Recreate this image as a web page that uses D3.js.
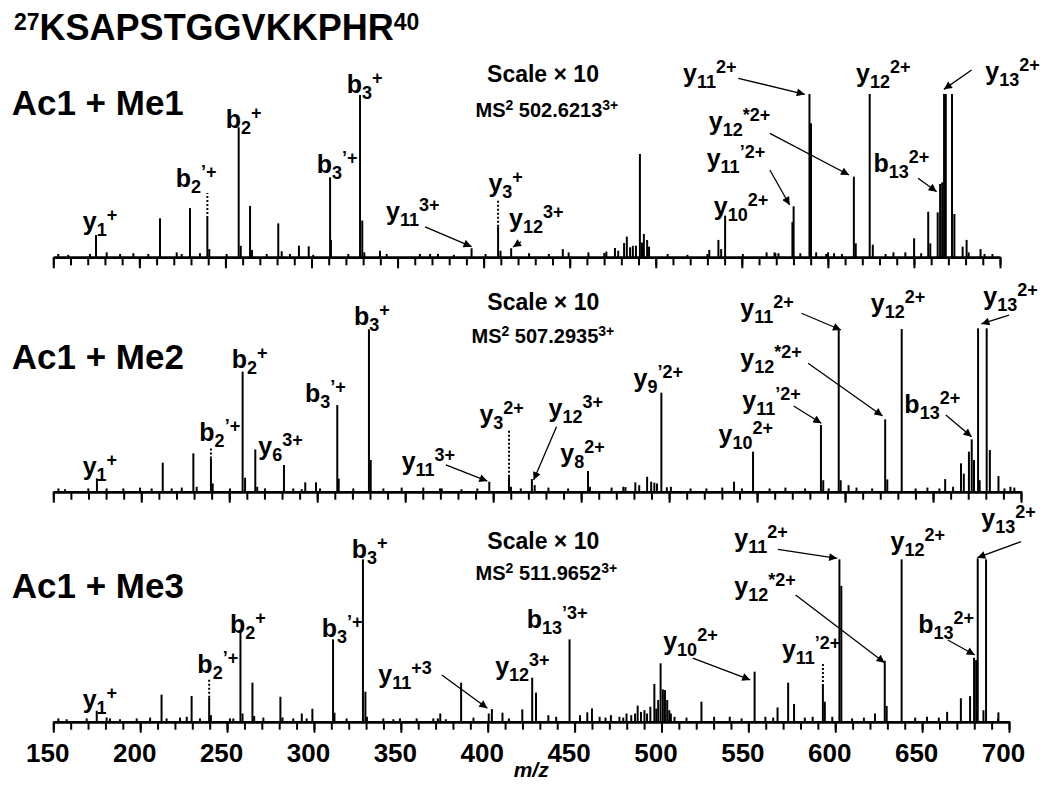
<!DOCTYPE html>
<html>
<head>
<meta charset="utf-8">
<script src="https://d3js.org/d3.v7.min.js"></script>
<style>
  body { margin:0; background:white; }
  text { font-family:"Liberation Sans", Arial, sans-serif; font-weight:bold; fill:black; }
</style>
</head>
<body>
<svg id="chart" width="1050" height="789"></svg>
<script>
// x axis
var xDomain = [150, 700];
var minorTicks = d3.range(150, 701, 10);
var majorTicks = [150, 200, 250, 300, 350, 400, 450, 500, 550, 600, 650, 700];

var panelNames = ["Ac1 + Me1", "Ac1 + Me2", "Ac1 + Me3"];
var precursors = ["502.6213", "507.2935", "511.9652"];

// peaks: [m/z, relative intensity (scale x10 view)]
var peaks1 = [[174.8,13.6],[212,23.8],[229.4,30],[239.5,24],[240.6,5],[257.7,79.3],[258.9,7],[264.3,31.3],[265.4,4.5],[280.7,20.7],[282.7,3.7],[292.7,7.1],[298.4,6.7],[310.8,48.8],[311.3,10.6],[328.2,99],[329.5,22.4],[330.7,3],
  [393,5.5],[408.4,18.7],[409.8,4],[416,5.5],[446,5],[449.4,3],[470.1,2.6],[476.3,5.7],[481.6,8.7],[483.2,12.6],[485.1,6.1],[486.7,7],[488.5,7.1],[490.8,63],[492,9],[493.1,14.2],[495,10.6],[496.1,6.5],
  [531.1,4.5],[536.4,10.6],[538,5],[540.3,25.4],[569.5,2.5],[579.4,21.5],[580.1,31.1],[589.3,99.6],[590.2,81.7],[593.2,3],[600.1,3],[615.1,49.2],[616.2,8.5],[624.3,99.6],[626.1,7.7],
  [645,3],[650.1,11.6],[658.3,27.8],[659.5,8.5],[663.8,27.4],[665.2,44.7],[666.4,45.7],[667.5,99.6],[668.5,99.6],[672.1,99.6],[673.5,26.4],[678.3,6.5],[680.6,10.6],[688.7,5]];
var noise1 = [[152.9,2],[158.7,1.5],[171.3,2],[181,3],[188.8,2],[196.5,2.5],[205.2,2],[221.7,3],[224.6,2],[235.2,2.5],[250.7,2],[274,2],[287.5,2],[301,1.5],[321.4,2],[339.8,4],[343.7,2],[363,2],[368.9,2],[373.5,2],[382.7,1.5],[401.1,2],[426.4,2.5],[437.9,2],[460.9,3],[471.3,3.5],[478.2,4],[506.9,2],[518.4,1.5],[530,2],[550.6,2],[564.4,3],[569,3],[571.3,2.5],[584,2.5],[599,2],[603.6,2.5],[608.2,2],[633.5,2],[638.1,3],[654.2,2.5],[681.8,3],[691,2],[695.6,2]];

var peaks2 = [[174.8,8.1],[180.3,2],[212.2,17.7],[229.6,23.4],[239.6,20.3],[240.6,5],[257.6,73.2],[259,8.5],[264.8,25.8],[265.9,3],[281.1,16.3],[293.2,5.7],[299.3,5.7],[311.4,52.8],[312.2,8],[329.4,99],[330.4,19.3],[348,2.5],
  [397.8,6.1],[409,9.1],[410.1,3],[422,7.7],[423.6,4],[453.9,12.6],[455,3],[475.2,2.8],[480.8,5.7],[487.5,9.1],[489.8,6.1],[491.6,5.5],[493.1,5],[495.6,60.4],[498.7,2.7],
  [536.9,6.1],[547.7,24.4],[586.3,40.7],[587.6,7],[596.4,99.2],[597.5,7],[602,4],[622.8,44.1],[624,7.5],[632.2,99.2],
  [656.9,7.7],[665.9,17.3],[667.5,11],[670.4,24.4],[672,31.9],[673.3,19.3],[675.6,99.6],[676.5,7],[680.5,99.6],[682.3,25.4],[687.2,9.5],[694,3]];
var noise2 = [[152.9,2],[156.7,1.5],[169.9,2],[189.8,2],[199.3,2.5],[205.9,2],[217.3,2],[223,2.5],[231.5,3],[250.4,2],[270.3,2],[286.4,2],[291.2,1.5],[301.6,2],[320.5,2],[337.6,2],[360.3,2.5],[369.8,2],[370.8,2],[382,1.5],[391,2],[415.7,2],[431.4,2.5],[442.6,2],[467.3,2.5],[474,3],[483,4],[501,3],[512.2,2],[521.2,2],[530.2,2.5],[541.4,2],[557.1,2],[566.1,2.5],[577.3,2],[590.7,2],[606.5,2.5],[615.4,2],[640.1,2],[646.8,2.5],[653.6,2],[661.4,3],[690.6,2],[696.2,2.5]];

var peaks3 = [[175,6.7],[180.7,2.6],[212.3,16.5],[229.6,15.7],[239.7,14.6],[240.7,4],[257.7,54.3],[258.9,5],[264.6,23.8],[265.6,3.5],[280.7,15.2],[281.9,2.6],[293,5],[299.1,7.9],[311,50.2],[311.8,5.5],[328.2,99],[329.6,18.3],[330.5,3],[372.7,5],
  [384.7,23.8],[400.6,5],[402.4,7.7],[408.5,5.5],[419.9,7.5],[425.6,26.8],[427.8,17.7],[447.1,50.2],[457.3,5.7],[460,8.1],[470.9,4],[479.9,5],[486.3,9.8],[490.2,7],[493.6,9.1],[495.9,23],[498.1,13.2],[499.5,35.6],[500.8,19.7],[502,19.3],[503.3,13.2],[505.4,5],
  [523,12.2],[553.6,30.5],[566.8,8.7],[572.9,23.8],[576.3,10.8],[592.9,21.8],[594,12.2],[602.4,99],[603.5,82.8],[622.9,5],[628.5,37.2],[629.6,9.6],[638.2,99],
  [664.4,6],[672.3,14.3],[677.6,15.6],[679.9,39],[681.1,37.6],[682,99.6],[685.3,7],[686.8,99],[693.9,5.7]];
var noise3 = [[152.9,2],[157.7,1.5],[169.2,2],[182.6,2],[188.4,1.5],[198,2],[205.7,2.5],[215.2,2],[222.9,2.5],[226.8,3],[234.4,2],[251.7,2],[253.6,2],[270.9,2.5],[288.1,2],[295.8,2],[318.8,2],[339.9,2],[345.7,1.5],[349.5,2],[359.1,2],[368.7,2],[371.3,2],[375.9,1.5],[391.8,2.5],[412.2,2],[434.9,4],[439.4,3],[453.1,4],[464.4,3],[467.8,2.5],[475.8,3],[478,2.5],[482.6,4],[484.8,5],[488.2,6],[491.7,5],[497,8],[504.5,7],[507.5,3],[514.4,2.5],[530.3,3],[539.3,3],[546.1,2],[559.8,3],[564.3,2.5],[582.5,2.5],[587,3],[598.3,3],[609.7,2],[616.5,2.5],[646,2.5],[652.8,3],[659.6,2.5],[693.7,2]];

// ion labels: [ion, subscript, superscript, m/z, intensity]
var labels1 = [["y","1","+",167.1,16.6],["b","2","\u2019+",221.1,43],["b","2","+",250.2,78.7],["b","3","\u2019+",303,51.2],["b","3","+",320.5,100],
  ["y","11","3+",343.3,22.7],["y","3","+",402.8,40],["y","12","3+",414.8,18.7],["y","10","2+",533.7,25.8],["y","11","\u20192+",529.6,55.2],
  ["y","12","*2+",530.8,77.6],["y","11","2+",515.9,107],["y","12","2+",616.4,107],["b","13","2+",626.5,52.2],["y","13","2+",691.5,108.1]];
var labels2 = [["y","1","+",166.7,10.2],["b","2","\u2019+",233,31.1],["b","2","+",251.4,75.2],["y","6","3+",266.5,22.4],["b","3","\u2019+",293.1,54.9],["b","3","+",320.9,101.6],
  ["y","11","3+",348,13.2],["y","3","2+",392.2,41.7],["y","12","3+",431.5,45.7],["y","8","2+",438.2,18.3],["y","9","\u20192+",479.8,64],["y","10","2+",528.1,29.5],
  ["y","11","\u20192+",541.6,50.4],["y","12","*2+",540.5,76.2],["y","11","2+",540.5,106.7],["y","12","2+",614.6,109.8],["b","13","2+",633.7,48.2],["y","13","2+",678.6,113.8]];
var labels3 = [["y","1","+",166.9,8.2],["b","2","\u2019+",232.9,29.5],["b","2","+",251.7,53.9],["b","3","\u2019+",304.5,51.8],["b","3","+",321.7,99.6],
  ["y","11","+3",337,23.4],["y","12","3+",404.3,28.5],["b","13","\u20193+",422.5,57],["y","10","2+",501,43.7],["y","11","\u20192+",569.3,38.7],
  ["y","12","*2+",541.9,77.3],["y","11","2+",541.9,106.7],["y","12","2+",631.8,104.7],["b","13","2+",647.8,53.9],["y","13","2+",684.1,118.9]];

// arrows: [m/z from, int from, m/z to, int to]
var arrows1 = [[366,18.5,393,6.5],[421.7,9.5,417.1,6.3],[566.3,53.2,577.8,31.9],[566.3,75.6,612.3,50.2],[548,109.1,586.6,99.4],[652.4,48.2,663.2,40],[683.5,114.2,667.4,102.4]];
var arrows2 = [[373.1,16.3,396.7,6.5],[436,39.6,423,7.1],[570.8,52.3,586.5,41.7],[579,78.3,621.3,46.2],[575.2,108.8,597.7,98.6],[657.3,46.8,671.9,33.5],[693.2,107.7,677.5,102.3]];
var arrows3 = [[373.6,28.5,399.8,8.2],[518,38.7,551.1,25.5],[577.2,77.3,628.4,36],[567,105.1,601.1,99.6],[664.8,49.8,680.3,40.7],[706.9,109.8,681.8,100]];

// dotted guides: [m/z, int bottom, int top]
var dotted1 = [[239.5,24,39.2],[408.4,18.7,34.9]];
var dotted2 = [[239.6,20.3,27.4],[409,9.1,38]];
var dotted3 = [[239.7,14.6,26.8],[592.9,21.8,35.6]];

// text positions [m/z, intensity]
var namePos = [[125.8,86.8],[126.4,74.6],[126.1,75.2]];
var scalePos = [[402,107.1],[396.7,110.8],[399.8,105.1]];
var precPos = [[395.3,85.7],[387.7,90.5],[393,86.4]];

var panels = [
  {base:257.3, right:1000, peaks:peaks1.concat(noise1), labels:labels1, arrows:arrows1, dotted:dotted1},
  {base:491.7, right:1021, peaks:peaks2.concat(noise2), labels:labels2, arrows:arrows2, dotted:dotted2},
  {base:721.7, right:1009, peaks:peaks3.concat(noise3), labels:labels3, arrows:arrows3, dotted:dotted3}
];

var svg = d3.select("#chart");
svg.append("defs").append("marker")
  .attr("id","arr").attr("viewBox","0 0 10 10").attr("refX",10).attr("refY",5)
  .attr("markerWidth",10).attr("markerHeight",8).attr("markerUnits","userSpaceOnUse")
  .attr("orient","auto")
  .append("path").attr("d","M0,0L10,5L0,10z").attr("fill","black");

// title
var title = svg.append("text").attr("x",14).attr("y",40).style("font-size","36px");
title.append("tspan").style("font-size","23px").attr("dy",-10).text("27");
title.append("tspan").attr("dy",10).text("KSAPSTGGVKKPHR");
title.append("tspan").style("font-size","23px").attr("dy",-10).text("40");

panels.forEach(function(p, k) {
  var x = d3.scaleLinear().domain(xDomain).range([53.3, p.right]);
  var y = d3.scaleLinear().domain([0,100]).range([p.base, p.base-164]);
  var g = svg.append("g");

  // peaks
  g.selectAll("line.peak").data(p.peaks).enter().append("line")
    .attr("class","peak")
    .attr("x1",function(d){ return x(d[0]); }).attr("x2",function(d){ return x(d[0]); })
    .attr("y1",y(0)).attr("y2",function(d){ return y(d[1]); })
    .style("stroke","black").style("stroke-width",2);

  // axis
  var minor = g.append("g").attr("transform","translate(0,"+p.base+")")
    .call(d3.axisBottom(x).tickValues(minorTicks).tickSize(8).tickSizeOuter(0).tickFormat(""));
  var major = g.append("g").attr("transform","translate(0,"+p.base+")")
    .call(d3.axisBottom(x).tickValues(majorTicks).tickSize(11).tickSizeOuter(0).tickPadding(10.5)
      .tickFormat(k == 2 ? d3.format("d") : ""));
  g.selectAll(".domain").style("stroke-width",2.5);
  g.selectAll(".tick line").style("stroke-width",2);
  major.selectAll("text").attr("dx",-6).style("font-size","26px").style("font-family","Liberation Sans, Arial, sans-serif").style("font-weight","bold");

  // dotted guides
  g.selectAll("line.dot").data(p.dotted).enter().append("line")
    .attr("x1",function(d){ return x(d[0]); }).attr("x2",function(d){ return x(d[0]); })
    .attr("y1",function(d){ return y(d[1]); }).attr("y2",function(d){ return y(d[2]); })
    .style("stroke","black").style("stroke-width",2).style("stroke-dasharray","2,2");

  // arrows
  g.selectAll("line.arr").data(p.arrows).enter().append("line")
    .attr("x1",function(d){ return x(d[0]); }).attr("y1",function(d){ return y(d[1]); })
    .attr("x2",function(d){ return x(d[2]); }).attr("y2",function(d){ return y(d[3]); })
    .style("stroke","black").style("stroke-width",1.3).attr("marker-end","url(#arr)");

  // ion labels
  p.labels.forEach(function(d) {
    var t = g.append("text").attr("x",x(d[3])).attr("y",y(d[4])).style("font-size","25px");
    t.append("tspan").text(d[0]);
    t.append("tspan").style("font-size","18px").attr("dy",6).text(d[1]);
    t.append("tspan").style("font-size","18px").attr("dy",-15).text(d[2]);
  });

  // panel name, scale, precursor
  g.append("text").attr("x",x(namePos[k][0])).attr("y",y(namePos[k][1]))
    .style("font-size","35px").text(panelNames[k]);
  g.append("text").attr("x",x(scalePos[k][0])).attr("y",y(scalePos[k][1]))
    .style("font-size","23px").text("Scale \u00d7 10");
  var pr = g.append("text").attr("x",x(precPos[k][0])).attr("y",y(precPos[k][1])).style("font-size","20px");
  pr.append("tspan").text("MS");
  pr.append("tspan").style("font-size","14px").attr("dy",-7).text("2");
  pr.append("tspan").attr("dy",7).text(" " + precursors[k]);
  pr.append("tspan").style("font-size","14px").attr("dy",-7).text("3+");

  if (k == 2) {
    g.append("text").attr("x",x(d3.mean(xDomain))).attr("y",777)
      .attr("text-anchor","middle").style("font-size","21px").style("font-style","italic").text("m/z");
  }
});
</script>
</body>
</html>
